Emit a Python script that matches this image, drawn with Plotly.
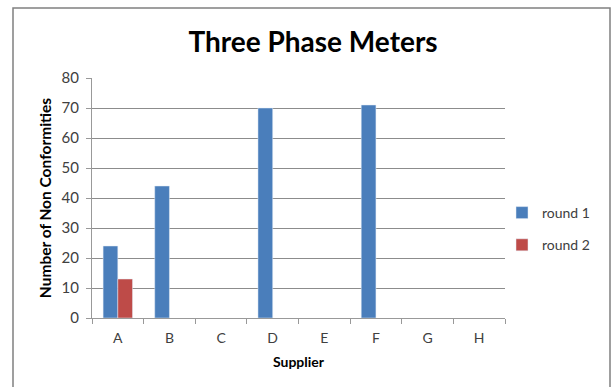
import plotly.graph_objects as go

categories = ["A", "B", "C", "D", "E", "F", "G", "H"]
round1 = [24, 44, None, 70, None, 71, None, None]
round2 = [13, None, None, None, None, None, None, None]
series_names = ["round 1", "round 2"]
y_ticks = [0, 10, 20, 30, 40, 50, 60, 70, 80]

W, H = 616, 387
L, R, T, B = 92, 111, 78, 69
pw, ph = W - L - R, H - T - B

def px_x(px):
    return (px - L) / pw

def px_y(py):
    return (H - B - py) / ph

fig = go.Figure()
fig.add_trace(go.Bar(x=categories, y=round1, name=series_names[0], marker_color="#4a7ebb",
                     legendgroup="g1"))
fig.add_trace(go.Bar(x=categories, y=round2, name=series_names[1], marker_color="#be4b48",
                     legendgroup="g2"))

fig.update_layout(
    width=W, height=H,
    margin=dict(l=L, r=R, t=T, b=B, autoexpand=False),
    paper_bgcolor="white", plot_bgcolor="white",
    font=dict(family="Lato, Open Sans, sans-serif", color="#404040", size=14),
    title=dict(text="<b>Three Phase Meters</b>", x=(313) / W, xanchor="center",
               y=1 - 42 / H, yanchor="middle",
               font=dict(family="Lato, Open Sans, sans-serif", size=28, color="#000000")),
    barmode="group", bargap=0.43, bargroupgap=0,
    showlegend=True,
    legend=dict(x=px_x(502), y=px_y(197), xanchor="left", yanchor="top",
                font=dict(size=14, color="#404040"), itemwidth=30, tracegroupgap=11,
                traceorder="grouped", bgcolor="rgba(0,0,0,0)"),
    xaxis=dict(type="category", showline=True, linecolor="#999999", linewidth=1,
               ticks="outside", tickson="boundaries", ticklen=5, tickcolor="#999999",
               automargin=False, ticklabelstandoff=7,
               title=dict(text="<b>Supplier</b>", font=dict(size=14, color="#000000"), standoff=12),
               tickfont=dict(size=14, color="#404040")),
    yaxis=dict(range=[0, 80], tickvals=y_ticks, showgrid=True, gridcolor="#8c8c8c", gridwidth=1,
               showline=True, linecolor="#999999", ticks="outside", ticklen=5, tickcolor="#999999",
               zeroline=False, automargin=False, ticklabelstandoff=4,
               title=dict(text="<b>Number of Non Conformities</b>", font=dict(size=15.5, color="#000000"), standoff=6),
               tickfont=dict(size=15, color="#404040")),
)

fig.add_shape(type="rect", xref="paper", yref="paper",
              x0=px_x(13), x1=px_x(610), y0=px_y(392), y1=px_y(8),
              line=dict(color="#808080", width=1.5), fillcolor="rgba(0,0,0,0)", layer="below")

fig.write_html("out.html", config={"displayModeBar": False},
               post_script="document.body.style.margin='0';document.body.style.padding='0';")
